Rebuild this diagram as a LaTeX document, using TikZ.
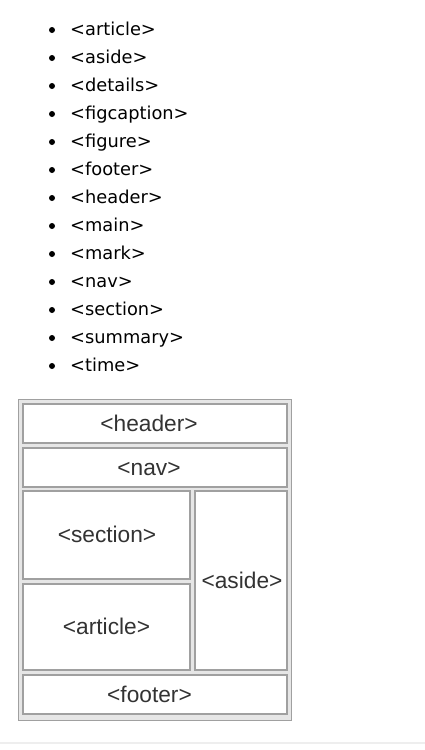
\documentclass[tikz,border=0pt]{standalone}
\usepackage{fontspec}
\setmainfont{DejaVu Sans}
\newfontfamily\arialf{Liberation Sans}
\definecolor{boxline}{HTML}{A0A0A0}
\definecolor{outerfill}{HTML}{E6E6E6}
\definecolor{boxtext}{HTML}{333333}
\definecolor{rulecol}{HTML}{EEEEEE}
\begin{document}
\begin{tikzpicture}[x=1pt,y=-1pt,
  itemtext/.style={anchor=base west,inner sep=0pt,font=\fontsize{17.8}{20}\selectfont,text=black},
  bulletdot/.style={circle,fill=black,inner sep=0pt,minimum size=6pt},
  areabox/.style={draw=boxline,line width=1.6pt,fill=white},
  areatext/.style={anchor=base,inner sep=0pt,font=\arialf\fontsize{22.7}{25}\selectfont,text=boxtext}]
\useasboundingbox (0,0) rectangle (425,750);
\foreach \t [count=\i from 0] in {article,aside,details,figcaption,figure,footer,header,main,mark,nav,section,summary,time}{
  \node[bulletdot] (b\i) at (52,{30+28*\i}) {};
  \node[itemtext] (t\i) at (70,{35+28*\i}) {<\t>};
}
\draw[draw=boxline,line width=1.4pt,fill=outerfill] (18.5,399.5) rectangle (291.5,720.5);
\path[areabox] (23,404) rectangle (287,443);
\path[areabox] (23,448) rectangle (287,487);
\path[areabox] (23,491) rectangle (190,579);
\path[areabox] (23,584) rectangle (190,670);
\path[areabox] (195,491) rectangle (287,670);
\path[areabox] (23,675) rectangle (287,714);
\node[areatext] (header) at (149,431) {<header>};
\node[areatext] (nav) at (149,475) {<nav>};
\node[areatext] (section) at (107,542.5) {<section>};
\node[areatext] (article) at (106.5,634.5) {<article>};
\node[areatext] (aside) at (242,588) {<aside>};
\node[areatext] (footer) at (149.5,702) {<footer>};
\draw[rulecol,line width=1.5pt] (0,743) -- (425,743);
\end{tikzpicture}
\end{document}
